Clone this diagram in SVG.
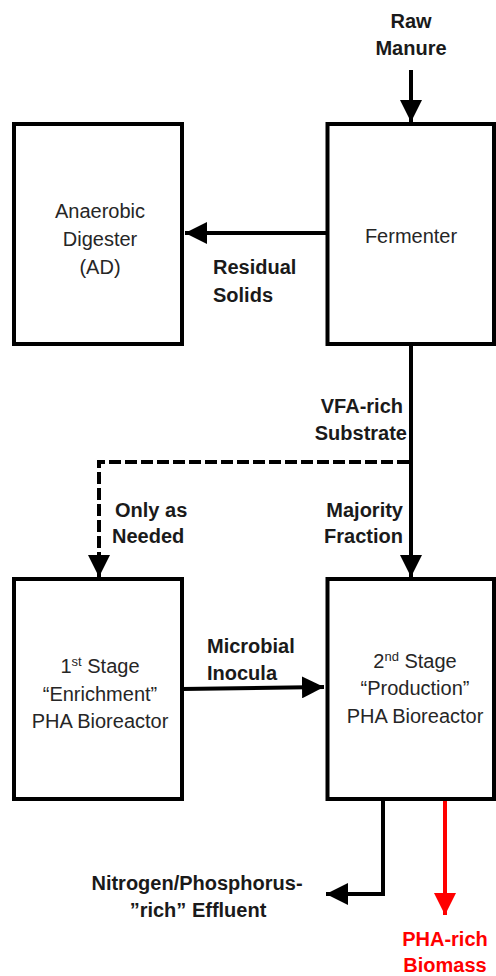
<svg xmlns="http://www.w3.org/2000/svg" width="496" height="976" viewBox="0 0 496 976">
  <style>
    .box { fill: #ffffff; stroke: #000000; stroke-width: 4; }
    .node-text { font-family: "Liberation Sans", Arial, sans-serif; font-size: 20px; fill: #262626; text-anchor: middle; }
    .label { font-family: "Liberation Sans", Arial, sans-serif; font-size: 20px; font-weight: bold; fill: #1a1a1a; }
    .flow { fill: none; stroke: #000000; stroke-width: 4; }
    .dashed { stroke-dasharray: 12 4; }
    .red { stroke: #ff0000; }
  </style>
  <defs>
    <marker id="head" viewBox="0 0 10 10" refX="10" refY="5" markerWidth="5.5" markerHeight="5.5" orient="auto" markerUnits="strokeWidth">
      <path d="M0,0 L10,5 L0,10 Z" fill="#000000"/>
    </marker>
    <marker id="head-red" viewBox="0 0 10 10" refX="10" refY="5" markerWidth="5.5" markerHeight="5.5" orient="auto" markerUnits="strokeWidth">
      <path d="M0,0 L10,5 L0,10 Z" fill="#ff0000"/>
    </marker>
  </defs>

  <!-- connectors -->
  <g id="connectors">
    <line class="flow" x1="411" y1="70" x2="411" y2="122" marker-end="url(#head)"/>
    <line class="flow" x1="327" y1="233" x2="185" y2="233" marker-end="url(#head)"/>
    <line class="flow" x1="411" y1="344" x2="411" y2="577" marker-end="url(#head)"/>
    <polyline class="flow dashed" points="409,462 99,462 99,577" marker-end="url(#head)"/>
    <line class="flow" x1="182" y1="689" x2="324" y2="687" marker-end="url(#head)"/>
    <polyline class="flow" points="383,799 383,894 326,894" marker-end="url(#head)"/>
    <line class="flow red" x1="445" y1="799" x2="445" y2="915" marker-end="url(#head-red)"/>
  </g>

  <!-- nodes -->
  <g id="anaerobic-digester">
    <rect class="box" x="14" y="124" width="168" height="220"/>
    <text class="node-text" x="100" y="218">Anaerobic</text>
    <text class="node-text" x="100" y="246">Digester</text>
    <text class="node-text" x="100" y="274">(AD)</text>
  </g>
  <g id="fermenter">
    <rect class="box" x="327.5" y="124" width="166.5" height="220"/>
    <text class="node-text" x="411" y="243">Fermenter</text>
  </g>
  <g id="stage1-bioreactor">
    <rect class="box" x="14" y="579" width="168" height="220"/>
    <text class="node-text" x="100" y="673">1<tspan font-size="13" dy="-7">st</tspan><tspan dy="7"> Stage</tspan></text>
    <text class="node-text" x="100" y="701">“Enrichment”</text>
    <text class="node-text" x="100" y="728">PHA Bioreactor</text>
  </g>
  <g id="stage2-bioreactor">
    <rect class="box" x="327.5" y="579" width="166.5" height="220"/>
    <text class="node-text" x="415" y="668">2<tspan font-size="13" dy="-7">nd</tspan><tspan dy="7"> Stage</tspan></text>
    <text class="node-text" x="415" y="695">“Production”</text>
    <text class="node-text" x="415" y="723">PHA Bioreactor</text>
  </g>

  <!-- flow labels -->
  <g id="labels">
    <text class="label" x="411" y="28" text-anchor="middle">Raw</text>
    <text class="label" x="411" y="55" text-anchor="middle">Manure</text>
    <text class="label" x="213" y="274">Residual</text>
    <text class="label" x="213" y="302">Solids</text>
    <text class="label" x="403" y="413" text-anchor="end">VFA-rich</text>
    <text class="label" x="407" y="440" text-anchor="end">Substrate</text>
    <text class="label" x="115" y="517">Only as</text>
    <text class="label" x="112" y="543">Needed</text>
    <text class="label" x="403" y="517" text-anchor="end">Majority</text>
    <text class="label" x="403" y="543" text-anchor="end">Fraction</text>
    <text class="label" x="207" y="653">Microbial</text>
    <text class="label" x="207" y="680">Inocula</text>
    <text class="label" x="197" y="890" text-anchor="middle">Nitrogen/Phosphorus-</text>
    <text class="label" x="198" y="917" text-anchor="middle">”rich” Effluent</text>
    <text class="label" x="445" y="946" text-anchor="middle" style="fill:#ff0000">PHA-rich</text>
    <text class="label" x="445" y="972" text-anchor="middle" style="fill:#ff0000">Biomass</text>
  </g>
</svg>
